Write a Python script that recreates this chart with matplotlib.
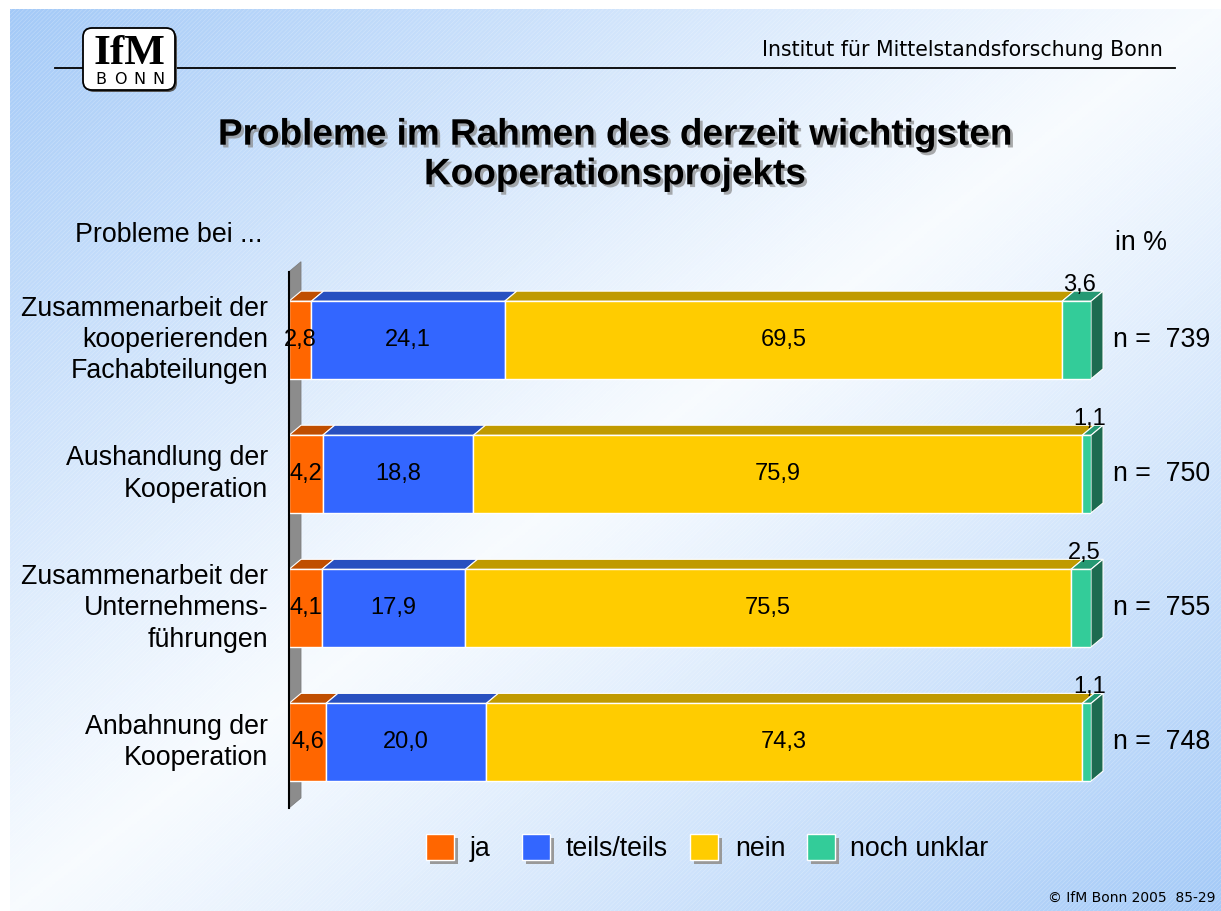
import numpy as np
import matplotlib
matplotlib.use("Agg")
import matplotlib.pyplot as plt
from matplotlib.patches import Polygon, Rectangle, FancyBboxPatch
import matplotlib.patheffects as pe

# ---------------- data ----------------
categories = [
    "Zusammenarbeit der\nkooperierenden\nFachabteilungen",
    "Aushandlung der\nKooperation",
    "Zusammenarbeit der\nUnternehmens-\nführungen",
    "Anbahnung der\nKooperation",
]
series_names = ["ja", "teils/teils", "nein", "noch unklar"]
ja = [2.8, 4.2, 4.1, 4.6]
teils = [24.1, 18.8, 17.9, 20.0]
nein = [69.5, 75.9, 75.5, 74.3]
unklar = [3.6, 1.1, 2.5, 1.1]
n_values = [739, 750, 755, 748]

front_colors = ["#FF6600", "#3366FF", "#FFCC00", "#33CC99"]
top_colors = ["#C04E00", "#2850C0", "#C09A00", "#259973"]
side_color = "#1D6B50"

W, H = 1221, 911
FONT = "Liberation Sans"
plt.rcParams["hatch.linewidth"] = 0.5

fig = plt.figure(figsize=(W / 100, H / 100), dpi=100)

# ---------------- background ----------------
bg = fig.add_axes([0, 0, 1, 1])
bg.set_xlim(0, W)
bg.set_ylim(H, 0)
bg.axis("off")
xx, yy = np.meshgrid(np.linspace(0, 1, 400), np.linspace(0, 1, 300))
t = (xx + yy) / 2
w = np.abs(2 * t - 1) ** 1.1
c_blue = np.array([0.64, 0.79, 0.97])
c_white = np.array([0.97, 0.985, 1.0])
img = c_white[None, None, :] * (1 - w[..., None]) + c_blue[None, None, :] * w[..., None]
bg.imshow(img, extent=[10, W, H, 9], aspect="auto", zorder=0)
bg.add_patch(Rectangle((10, 9), W - 10, H - 9, facecolor="none", edgecolor=(1, 1, 1, 0.25),
                       hatch="////////", linewidth=0, zorder=1))

# header
bg.plot([55, 1175], [68, 68], color="black", lw=1.3, zorder=2)
bg.add_patch(FancyBboxPatch((85, 30), 92, 62, boxstyle="round,pad=0,rounding_size=9",
                            facecolor="#555555", edgecolor="none", zorder=2))
bg.add_patch(FancyBboxPatch((83, 28), 92, 62, boxstyle="round,pad=0,rounding_size=9",
                            facecolor="white", edgecolor="black", lw=1.3, zorder=3))
bg.text(129, 64, "IfM", family="Liberation Serif", fontweight="bold", fontsize=31,
        ha="center", va="baseline", zorder=4)
for k, ch in enumerate("BONN"):
    bg.text(101 + 19 * k, 84, ch, family="DejaVu Sans", fontsize=11.5, ha="center",
            va="baseline", zorder=4)
bg.text(1163, 50, "Institut für Mittelstandsforschung Bonn", family="DejaVu Sans",
        fontsize=14.8, ha="right", va="center", zorder=4)

# title
bg.text(615, 155, "Probleme im Rahmen des derzeit wichtigsten\nKooperationsprojekts",
        family=FONT, fontweight="bold", fontsize=26.6, ha="center", va="center",
        linespacing=1.17, zorder=4,
        path_effects=[pe.withSimplePatchShadow(offset=(2, -2), shadow_rgbFace="#888888", alpha=0.7)])
bg.text(75, 235, "Probleme bei ...", family=FONT, fontsize=19.3, ha="left", va="center", zorder=4)
bg.text(1115, 243, "in %", family=FONT, fontsize=19.3, ha="left", va="center", zorder=4)
bg.text(1215, 898, "© IfM Bonn 2005  85-29", family="DejaVu Sans", fontsize=10,
        ha="right", va="center", zorder=4)

# legend
leg_sq_x = [426, 522, 690, 807]
leg_txt_x = [470, 566, 735, 850]
for i, name in enumerate(series_names):
    x0 = leg_sq_x[i]
    bg.add_patch(Rectangle((x0 + 4, 838), 28, 26, facecolor="#999999", edgecolor="none", zorder=3))
    bg.add_patch(Rectangle((x0, 834), 28, 26, facecolor=front_colors[i], edgecolor="white",
                           lw=1, zorder=4))
    bg.text(leg_txt_x[i], 849, name, family=FONT, fontsize=19.3, ha="left", va="center", zorder=4)

# ---------------- bar chart ----------------
ax = fig.add_axes([289 / W, 1 - 808 / H, 802 / W, 543 / H])
ax.set_xlim(0, 100)
ax.set_ylim(3.49, -0.56)
ax.axis("off")
ax.patch.set_alpha(0)

ypos = np.arange(len(categories))
bh = 0.58
dx = 1.5
dy = 0.075
data = [ja, teils, nein, unklar]

# back wall
ymin, ymax = 3.49, -0.56 + 0.05
wall = Polygon([(0, ymin), (0, ymax), (dx, ymax - dy), (dx, ymin - dy)], closed=True,
               facecolor="#8C8C8C", edgecolor="#777777", lw=0.5, zorder=1, clip_on=False)
ax.add_patch(wall)
ax.plot([0, 0], [ymin, ymax], color="black", lw=1.5, zorder=6, clip_on=False)

lefts = np.zeros(len(categories))
for s, vals in enumerate(data):
    vals = np.array(vals)
    ax.barh(ypos, vals, left=lefts, height=bh, color=front_colors[s], edgecolor="white",
            linewidth=1.0, zorder=3)
    for i in range(len(categories)):
        x0, x1 = lefts[i], lefts[i] + vals[i]
        yt = ypos[i] - bh / 2
        ax.add_patch(Polygon([(x0, yt), (x1, yt), (x1 + dx, yt - dy), (x0 + dx, yt - dy)],
                             closed=True, facecolor=top_colors[s], edgecolor="white",
                             lw=0.8, zorder=2, clip_on=False))
        label = f"{vals[i]:.1f}".replace(".", ",")
        if s < 3:
            ax.text((x0 + x1) / 2, ypos[i], label, ha="center", va="center",
                    family=FONT, fontsize=17, zorder=5)
        else:
            ax.text((x0 + x1) / 2 + 0.4, yt - dy + 0.035, label, ha="center", va="bottom",
                    family=FONT, fontsize=17, zorder=5, clip_on=False)
    lefts = lefts + vals

for i in range(len(categories)):
    x1 = lefts[i]
    yt, yb = ypos[i] - bh / 2, ypos[i] + bh / 2
    ax.add_patch(Polygon([(x1, yt), (x1, yb), (x1 + dx, yb - dy), (x1 + dx, yt - dy)],
                         closed=True, facecolor=side_color, edgecolor="white", lw=0.8,
                         zorder=2, clip_on=False))
    ax.text(x1 + dx + 1.3, ypos[i], f"n =  {n_values[i]}", ha="left", va="center",
            family=FONT, fontsize=19.3, clip_on=False)
    ax.text(-2.6, ypos[i], categories[i], ha="right", va="center", family=FONT,
            fontsize=19.3, linespacing=1.27, clip_on=False)

fig.savefig("out.png", dpi=100)
